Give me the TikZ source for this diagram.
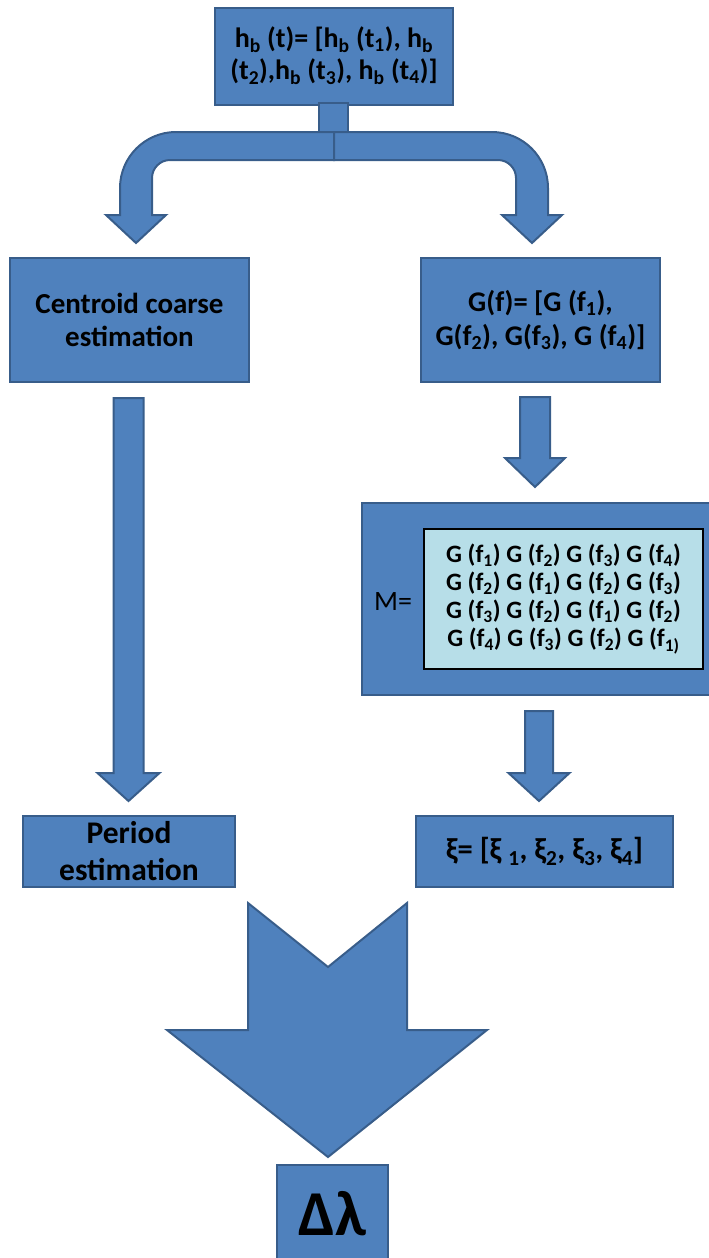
\documentclass[tikz,border=0pt]{standalone}
\usepackage{fontspec}
\setmainfont{Carlito}
\usetikzlibrary{calc}

\definecolor{boxfill}{HTML}{4F81BD}
\definecolor{boxline}{HTML}{385D8A}
\definecolor{matfill}{HTML}{B7DEE8}

\newcommand\lo[1]{\textsubscript{#1}}

% straight block arrow: #1 top centre, #2 tip, #3 shaft half width, #4 head half width, #5 head length (pt)
\newcommand\blockarrow[5]{%
  \filldraw[blockstyle] let \p1=(#1), \p2=(#2) in
    (\x1-#3pt,\y1) -- (\x1+#3pt,\y1) -- (\x1+#3pt,\y2+#5pt) -- (\x1+#4pt,\y2+#5pt)
    -- (\x2,\y2) -- (\x1-#4pt,\y2+#5pt) -- (\x1-#3pt,\y2+#5pt) -- cycle;}

\tikzset{
  blockstyle/.style={fill=boxfill, draw=boxline, line width=2pt, line join=miter},
  box/.style={blockstyle, rectangle, inner sep=0pt, align=center, text=black},
  fsize/.style n args={2}{font=\fontsize{#1}{#2}\selectfont\bfseries},
}

\begin{document}
\begin{tikzpicture}[x=1pt,y=-1pt]
\useasboundingbox (0,0) rectangle (709,1258);

% ---- boxes ----
\node[box, minimum width=238, minimum height=97, fsize={28}{32}] (top) at (334,56)
  {h\lo{b} (t)= [h\lo{b} (t\lo{1}), h\lo{b}\\(t\lo{2}),h\lo{b} (t\lo{3}), h\lo{b} (t\lo{4})]};
\node[box, minimum width=239, minimum height=124, fsize={29}{33}] (cent) at (129.5,320)
  {Centroid coarse\\estimation};
\node[box, minimum width=239, minimum height=124, fsize={28.5}{34}] (gf) at (540.5,320)
  {G(f)= [G (f\lo{1}),\\G(f\lo{2}), G(f\lo{3}), G (f\lo{4})]};
\node[box, minimum width=350, minimum height=192] (mbox) at (537,599) {};
\node[draw=black, fill=matfill, line width=2.2pt, minimum width=279, minimum height=140,
      inner sep=0pt, align=center, fsize={25}{28}] (mat) at (563.5,599)
  {G (f\lo{1}) G (f\lo{2}) G (f\lo{3}) G (f\lo{4})\\
   G (f\lo{2}) G (f\lo{1}) G (f\lo{2}) G (f\lo{3})\\
   G (f\lo{3}) G (f\lo{2}) G (f\lo{1}) G (f\lo{2})\\
   G (f\lo{4}) G (f\lo{3}) G (f\lo{2}) G (f\lo{1)}};
\node[font=\fontsize{28}{32}\selectfont, inner sep=0pt] (mlab) at (393,602) {M=};
\node[box, minimum width=212, minimum height=71, fsize={31.5}{37}] (period) at (129,851.5)
  {Period\\estimation};
\node[box, minimum width=257, minimum height=71, fsize={30.5}{34}] (xi) at (544.5,851.5)
  {ξ= [ξ \lo{1}, ξ\lo{2}, ξ\lo{3}, ξ\lo{4}]};
\node[box, minimum width=111, minimum height=97, fsize={64}{70}] (dl) at (332.5,1213.5)
  {Δλ};

% ---- stem and split arrow below the top box ----
\filldraw[blockstyle] (319,103) rectangle (348,133);
\filldraw[blockstyle] (334,132) -- (176,132) .. controls (145.1,132) and (120,157.1) .. (120,188)
  -- (120,215) -- (106,215) -- (136,243) -- (166,215) -- (152,215) -- (152,178)
  .. controls (152,168.1) and (160.1,160) .. (170,160) -- (334,160) -- cycle;
\filldraw[blockstyle] (334,132) -- (492,132) .. controls (522.9,132) and (548,157.1) .. (548,188)
  -- (548,215) -- (562,215) -- (532,243) -- (502,215) -- (516,215) -- (516,178)
  .. controls (516,168.1) and (507.9,160) .. (498,160) -- (334,160) -- cycle;

% ---- straight arrows ----
\coordinate (a1s) at (128.5,398);  \coordinate (a1t) at (128.5,801);
\coordinate (a2s) at (535,397);    \coordinate (a2t) at (535,487);
\coordinate (a3s) at (539,711);    \coordinate (a3t) at (539,801);
\blockarrow{a1s}{a1t}{15}{31}{28}
\blockarrow{a2s}{a2t}{15}{30}{29}
\blockarrow{a3s}{a3t}{14}{30.5}{28}

% ---- large notched arrow into the result ----
\filldraw[blockstyle] (248,903) -- (328,967) -- (407,903) -- (407,1030) -- (487,1030)
  -- (328,1157) -- (167,1030) -- (248,1030) -- cycle;
\end{tikzpicture}
\end{document}
